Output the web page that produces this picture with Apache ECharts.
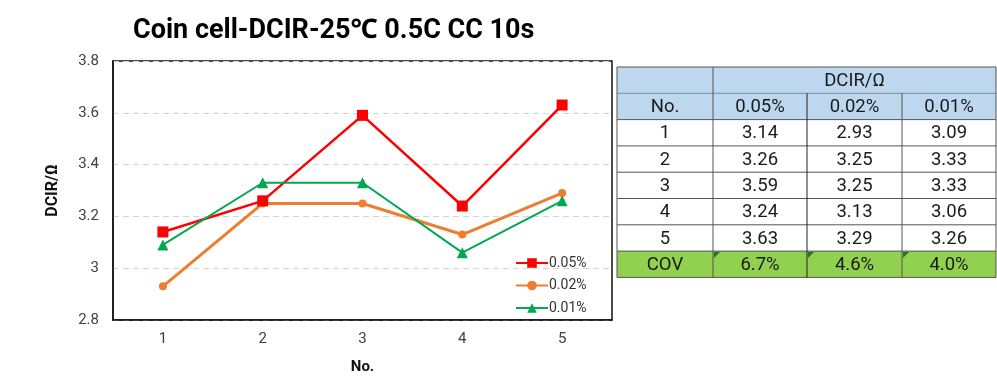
<!DOCTYPE html>
<html>
<head>
<meta charset="utf-8">
<script src="https://cdn.jsdelivr.net/npm/echarts@6/dist/echarts.min.js"></script>
<style>
html,body{margin:0;padding:0;background:#fff;}
#chart{width:997px;height:380px;}
</style>
</head>
<body>
<div id="chart"></div>
<script>
const categories = ['1', '2', '3', '4', '5'];
const seriesNames = ['0.05%', '0.02%', '0.01%'];
const s005 = [3.14, 3.26, 3.59, 3.24, 3.63];
const s002 = [2.93, 3.25, 3.25, 3.13, 3.29];
const s001 = [3.09, 3.33, 3.33, 3.06, 3.26];
const covValues = ['6.7%', '4.6%', '4.0%'];
const yTicks = [2.8, 3.0, 3.2, 3.4, 3.6, 3.8];

const chart = echarts.init(document.getElementById('chart'), null, {renderer: 'canvas'});
const FONT = 'Roboto, "Noto Sans", sans-serif';

// table layout
const colX = [617, 713, 807, 902, 996];
const rowTop = 67, rowH = 26.3, nRows = 8;
const rowY = i => rowTop + i * rowH;
const g = [];
g.push({type: 'rect', shape: {x: colX[0], y: rowY(0), width: colX[4] - colX[0], height: rowH * 2}, style: {fill: '#BDD7EE'}});
g.push({type: 'rect', shape: {x: colX[0], y: rowY(2), width: colX[4] - colX[0], height: rowH * 5}, style: {fill: '#ffffff'}});
g.push({type: 'rect', shape: {x: colX[0], y: rowY(7), width: colX[4] - colX[0], height: rowH}, style: {fill: '#92D050'}});
for (let i = 0; i <= nRows; i++) {
  g.push({type: 'line', shape: {x1: colX[0], y1: rowY(i), x2: colX[4], y2: rowY(i)},
    style: {stroke: i === 1 ? '#7a8a99' : '#555', lineWidth: 1}});
}
for (let c = 0; c <= 4; c++) {
  const yStart = (c === 2 || c === 3) ? rowY(1) : rowY(0);
  g.push({type: 'line', shape: {x1: colX[c], y1: yStart, x2: colX[c], y2: rowY(nRows)},
    style: {stroke: c === 2 ? '#222' : '#555', lineWidth: 1}});
}
function cellText(txt, c0, c1, r) {
  g.push({type: 'text', x: (colX[c0] + colX[c1]) / 2, y: rowY(r) + rowH / 2 + 1,
    style: {text: txt, fill: '#1a1a1a', font: '18.5px ' + FONT, align: 'center', verticalAlign: 'middle'}});
}
cellText('DCIR/Ω', 1, 4, 0);
cellText('No.', 0, 1, 1);
seriesNames.forEach((n, i) => cellText(n, i + 1, i + 2, 1));
const tableSeries = [s005, s002, s001];
categories.forEach((cat, r) => {
  cellText(cat, 0, 1, r + 2);
  tableSeries.forEach((arr, i) => cellText(arr[r].toFixed(2), i + 1, i + 2, r + 2));
});
cellText('COV', 0, 1, 7);
covValues.forEach((v, i) => {
  cellText(v, i + 1, i + 2, 7);
  const x0 = colX[i + 1] + 1, y0 = rowY(7) + 1;
  g.push({type: 'polygon', shape: {points: [[x0, y0], [x0 + 6, y0], [x0, y0 + 6]]}, style: {fill: '#1f7a1f'}});
});

const option = {
  backgroundColor: '#fff',
  animation: false,
  title: {
    text: 'Coin cell-DCIR-25℃ 0.5C CC 10s',
    left: 128, top: 13,
    textStyle: {fontSize: 27, fontWeight: 'bold', color: '#000', fontFamily: FONT}
  },
  grid: {
    left: 113, right: 385, top: 61, bottom: 57,
    show: true, borderColor: '#111', borderWidth: 1.5, backgroundColor: 'transparent'
  },
  legend: {
    orient: 'vertical', left: 510, top: 251,
    itemWidth: 32, itemHeight: 12, itemGap: 8.5,
    textStyle: {fontSize: 14, color: '#333', fontFamily: FONT, padding: [0, 0, 0, -4]},
    data: seriesNames
  },
  xAxis: {
    type: 'category', data: categories, boundaryGap: true,
    axisLine: {show: true, lineStyle: {color: '#111', width: 1.5}}, axisTick: {show: false},
    axisLabel: {fontSize: 15, color: '#404040', margin: 12, fontFamily: FONT},
    name: 'No.', nameLocation: 'middle', nameGap: 40,
    nameTextStyle: {fontSize: 15, fontWeight: 'bold', color: '#111', fontFamily: FONT}
  },
  yAxis: {
    type: 'value', min: yTicks[0], max: yTicks[yTicks.length - 1], interval: 0.2,
    axisLine: {show: true, lineStyle: {color: '#111', width: 1.5}}, axisTick: {show: false},
    axisLabel: {fontSize: 15, color: '#404040', margin: 14, fontFamily: FONT},
    splitLine: {show: true, lineStyle: {color: '#d4d4d4', type: [6, 4], width: 1.2}},
    name: 'DCIR/Ω', nameLocation: 'middle', nameGap: 52, nameRotate: 90,
    nameTextStyle: {fontSize: 16, fontWeight: 'bold', color: '#111', fontFamily: FONT}
  },
  series: [
    {name: seriesNames[0], type: 'line', data: s005, symbol: 'rect', symbolSize: 11,
     lineStyle: {color: '#FF0000', width: 2.5}, itemStyle: {color: '#FF0000'}, z: 3},
    {name: seriesNames[1], type: 'line', data: s002, symbol: 'circle', symbolSize: 8,
     lineStyle: {color: '#ED7D31', width: 3}, itemStyle: {color: '#ED7D31'}, z: 2},
    {name: seriesNames[2], type: 'line', data: s001, symbol: 'triangle', symbolSize: 11,
     lineStyle: {color: '#00A850', width: 2}, itemStyle: {color: '#00A850'}, z: 4}
  ],
  graphic: g
};
chart.setOption(option);
</script>
</body>
</html>
